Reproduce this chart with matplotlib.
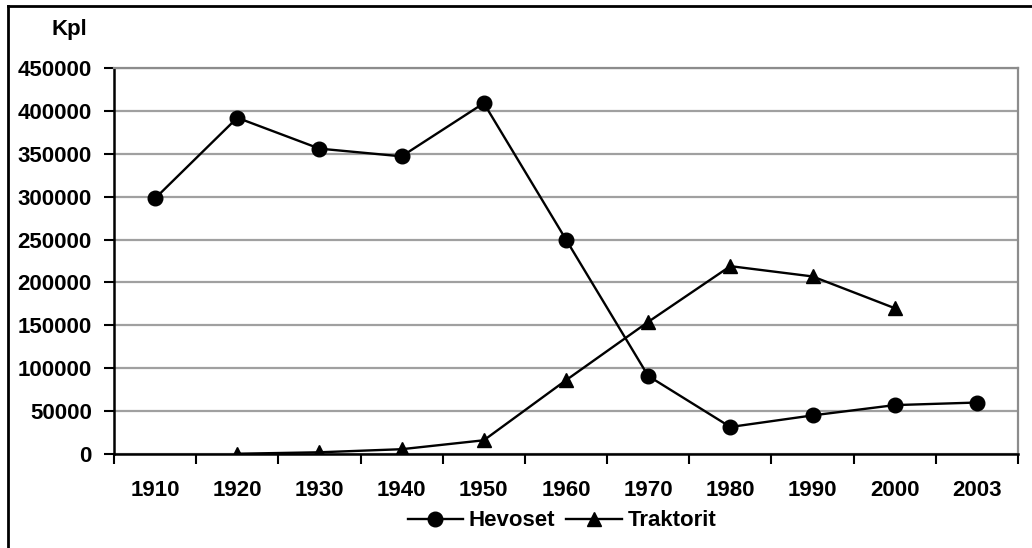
import numpy as np
import matplotlib.pyplot as plt
from matplotlib.lines import Line2D

plt.rcParams['font.family'] = ['Liberation Sans', 'DejaVu Sans']
plt.rcParams['font.weight'] = 'bold'

# Data
vuodet = ['1910', '1920', '1930', '1940', '1950', '1960', '1970', '1980', '1990', '2000', '2003']
hevoset = [298000, 392000, 356000, 347000, 409000, 250000, 91000, 31500, 45000, 57000, 60000]
traktorit = [np.nan, 300, 2000, 5600, 16000, 86000, 154000, 219000, 207000, 170000, np.nan]
y_ticks = [0, 50000, 100000, 150000, 200000, 250000, 300000, 350000, 400000, 450000]

W, H = 1032, 548
fig = plt.figure(figsize=(W / 100, H / 100), dpi=100)
ax = fig.add_axes([114 / W, (H - 454) / H, (1018 - 114) / W, (454 - 68) / H])

x = np.arange(len(vuodet))
ax.plot(x, hevoset, color='black', lw=1.7, marker='o', ms=10.5, label='Hevoset', zorder=3)
ax.plot(x, traktorit, color='black', lw=1.7, marker='^', ms=10, label='Traktorit', zorder=3)

ax.set_xlim(-0.5, len(vuodet) - 0.5)
ax.set_ylim(0, 450000)
ax.set_yticks(y_ticks)
ax.set_yticklabels([str(v) for v in y_ticks], fontsize=16, fontweight='bold')
ax.tick_params(axis='y', direction='out', length=7, width=1.5, pad=9)

# category boundaries as major ticks, labels at centers
ax.set_xticks(np.arange(-0.5, len(vuodet), 1.0))
ax.set_xticklabels([])
ax.set_xticks(x, minor=True)
ax.set_xticklabels(vuodet, minor=True, fontsize=16, fontweight='bold')
ax.tick_params(axis='x', which='major', direction='out', length=7, width=1.5)
ax.tick_params(axis='x', which='minor', length=0, pad=18.5)

ax.yaxis.grid(True, color='#a0a0a0', lw=1.6)
ax.set_axisbelow(True)
for s in ['left', 'bottom']:
    ax.spines[s].set_color('black')
    ax.spines[s].set_linewidth(1.8)
for s in ['top', 'right']:
    ax.spines[s].set_color('#8c8c8c')
    ax.spines[s].set_linewidth(1.6)
ax.spines['bottom'].set_zorder(4)

fig.text(69 / W, 1 - 30 / H, 'Kpl', ha='center', va='center', fontsize=16, fontweight='bold')

leg = fig.legend(loc='center', bbox_to_anchor=(562 / W, 1 - 521 / H), ncol=2, frameon=False,
                 handlelength=2.5, handletextpad=0.25, columnspacing=0.5,
                 borderpad=0, prop={'weight': 'bold', 'size': 16})

# figure border (left and top visible)
fig.add_artist(Line2D([8 / W, 8 / W], [0, 1 - 6 / H], color='black', lw=2, transform=fig.transFigure))
fig.add_artist(Line2D([8 / W, 1], [1 - 6 / H, 1 - 6 / H], color='black', lw=2, transform=fig.transFigure))

fig.savefig('out.png', dpi=100)
